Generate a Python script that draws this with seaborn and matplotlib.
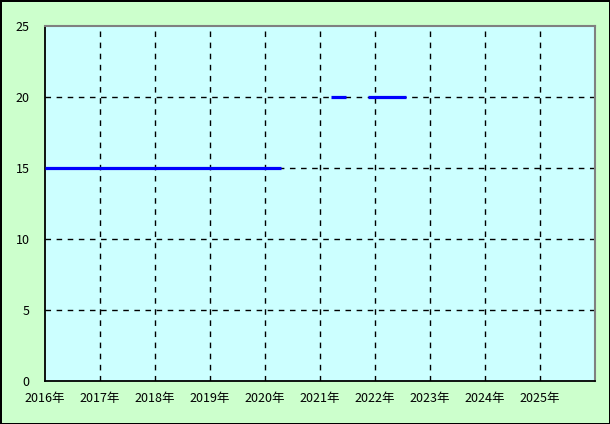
import matplotlib
matplotlib.use("Agg")
import matplotlib.pyplot as plt
import seaborn as sns
import pandas as pd

# Data (fractional years)
seg_start = [2016.0, 2021.2, 2021.88]
seg_end = [2020.3, 2021.47, 2022.56]
seg_value = [15, 20, 20]
year_ticks = list(range(2016, 2026))
year_labels = [f"{y}年" for y in year_ticks]
y_ticks = [0, 5, 10, 15, 20, 25]

sns.set_style("white")
plt.rcParams['font.family'] = ['Noto Sans CJK JP', 'DejaVu Sans']

rows = []
for i, (s, e, v) in enumerate(zip(seg_start, seg_end, seg_value)):
    rows.append({"x": s, "y": v, "seg": i})
    rows.append({"x": e, "y": v, "seg": i})
df = pd.DataFrame(rows)

fig = plt.figure(figsize=(6.1, 4.24), dpi=100, facecolor="#CCFFCC",
                 edgecolor="black", linewidth=2)
ax = fig.add_axes([45/610, 1-381/424, 550/610, 355/424])
ax.set_facecolor("#CCFFFF")

sns.lineplot(data=df, x="x", y="y", units="seg", estimator=None,
             color="#0000FF", linewidth=2.3, ax=ax, legend=False, zorder=3)
for ln in ax.get_lines():
    ln.set_solid_capstyle("butt")

ax.set_xlim(2016, 2026)
ax.set_ylim(0, 25)
ax.set_xticks(year_ticks)
ax.set_xticklabels(year_labels)
ax.set_yticks(y_ticks)
ax.tick_params(axis="both", length=0, labelsize=9, colors="black")
ax.tick_params(axis="y", pad=11)
ax.tick_params(axis="x", pad=8)
ax.set_xlabel("")
ax.set_ylabel("")
ax.grid(True, color="black", linestyle=(0, (4, 4)), linewidth=1)
ax.set_axisbelow(True)
# hide grid lines that coincide with the axes frame
for gl, t in zip(ax.get_xgridlines(), year_ticks):
    if t == 2016:
        gl.set_visible(False)
for gl, t in zip(ax.get_ygridlines(), y_ticks):
    if t in (0, 25):
        gl.set_visible(False)
for side in ["left", "bottom"]:
    ax.spines[side].set_color("black")
    ax.spines[side].set_linewidth(1.3)
for side in ["top", "right"]:
    ax.spines[side].set_color("#808080")
    ax.spines[side].set_linewidth(1.5)
    ax.spines[side].set_visible(True)

fig.savefig("out.png", dpi=100, facecolor=fig.get_facecolor(), edgecolor=fig.get_edgecolor())
